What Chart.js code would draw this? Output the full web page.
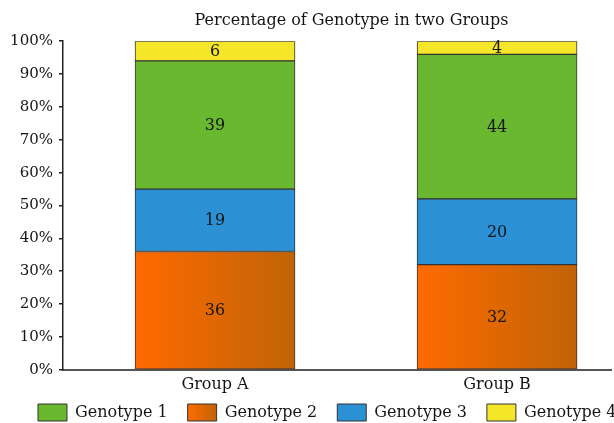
<!DOCTYPE html>
<html><head><meta charset="utf-8">
<script src="https://cdn.jsdelivr.net/npm/chart.js@4.4.1/dist/chart.umd.min.js"></script>
<style>html,body{margin:0;padding:0;background:#fff}#wrap{width:614px;height:423px}</style>
</head><body><div id="wrap"><canvas id="c" width="614" height="423"></canvas></div>
<script>
const chartTitle = 'Percentage of Genotype in two Groups';
const groups = ['Group A', 'Group B'];
const groupPositions = [1, 2];
const seriesNames = ['Genotype 1', 'Genotype 2', 'Genotype 3', 'Genotype 4'];
const genotype1 = [39, 44];
const genotype2 = [36, 32];
const genotype3 = [19, 20];
const genotype4 = [6, 4];
const yTicks = [0, 10, 20, 30, 40, 50, 60, 70, 80, 90, 100];

const FONT = 'DejaVu Serif';
const TXT = '#151515';
const EDGE = '#333333';
const ORANGE_L = '#ff6a00', ORANGE_R = '#c06406';

function pts(arr) { return arr.map((v, i) => ({ x: groupPositions[i], y: v })); }

function orangeFill(ctx) {
  const chart = ctx.chart;
  if (ctx.type !== 'data' || !chart.chartArea) return '#e06800';
  const x = chart.scales.x.getPixelForValue(groupPositions[ctx.dataIndex]);
  const g = chart.ctx.createLinearGradient(x - 80, 0, x + 80, 0);
  g.addColorStop(0, ORANGE_L);
  g.addColorStop(1, ORANGE_R);
  return g;
}

const datasets = [
  { label: seriesNames[1], data: pts(genotype2), backgroundColor: orangeFill },
  { label: seriesNames[2], data: pts(genotype3), backgroundColor: '#2b90d4' },
  { label: seriesNames[0], data: pts(genotype1), backgroundColor: '#6ab82f' },
  { label: seriesNames[3], data: pts(genotype4), backgroundColor: '#f5e62a' }
].map(d => Object.assign(d, { borderColor: EDGE, borderWidth: 1, borderSkipped: false, barThickness: 160 }));

const valueLabels = {
  id: 'valueLabels',
  afterDatasetsDraw(chart) {
    const ctx = chart.ctx;
    ctx.save();
    ctx.font = '16px "' + FONT + '"';
    ctx.fillStyle = TXT;
    ctx.textAlign = 'center';
    ctx.textBaseline = 'middle';
    chart.data.datasets.forEach((ds, di) => {
      chart.getDatasetMeta(di).data.forEach((el, i) => {
        const p = el.getProps(['x', 'y', 'base'], true);
        ctx.fillText(String(ds.data[i].y), p.x, (p.y + p.base) / 2 + 1);
      });
    });
    ctx.restore();
  }
};

const placeBoxes = {
  id: 'placeBoxes',
  afterLayout(chart) {
    const t = chart.titleBlock;
    if (t) { t.left += 46; t.right += 46; }
    const lg = chart.legend;
    if (lg) {
      const pad = lg.options.labels.padding;
      lg.left = 38 - pad; lg.right = 1000;
      lg.top = 404 - pad; lg.bottom = 423;
    }
  },
  beforeDraw(chart) {
    const lg = chart.legend;
    if (!lg) return;
    const lo = lg.options.labels;
    const pad = lo.padding;
    const ctx = chart.ctx;
    ctx.save();
    ctx.font = lo.font.size + 'px "' + lo.font.family + '"';
    let x = lg.left + pad;
    (lg.legendItems || []).forEach(item => {
      const w = lo.boxWidth + lo.font.size / 2 + ctx.measureText(item.text).width;
      if (item.text === seriesNames[1]) {
        const g = ctx.createLinearGradient(x, 0, x + lo.boxWidth, 0);
        g.addColorStop(0, ORANGE_L); g.addColorStop(1, ORANGE_R);
        item.fillStyle = g;
      }
      x += w + pad;
    });
    ctx.restore();
  }
};

new Chart(document.getElementById('c'), {
  type: 'bar',
  data: { datasets },
  plugins: [valueLabels, placeBoxes],
  options: {
    responsive: false,
    animation: false,
    layout: { padding: { left: 0, right: 3, top: 0, bottom: 0 } },
    scales: {
      x: {
        type: 'linear', stacked: true, offset: false, min: 0.461, max: 2.404,
        afterBuildTicks(scale) { scale.ticks = groupPositions.map(v => ({ value: v })); },
        ticks: {
          padding: 5, color: TXT, font: { family: FONT, size: 16 },
          callback: (v) => groups[groupPositions.indexOf(v)]
        },
        grid: { display: false, drawTicks: false },
        border: { color: '#555', width: 2 }
      },
      y: {
        stacked: true, min: 0, max: 100,
        afterBuildTicks(scale) { scale.ticks = yTicks.map(v => ({ value: v })); },
        afterFit(scale) { scale.width = 63; },
        ticks: {
          padding: 6, color: TXT, font: { family: FONT, size: 15 },
          callback: (v) => v + '%'
        },
        grid: { drawOnChartArea: false, drawTicks: true, tickLength: 4, color: '#222', lineWidth: 1.5 },
        border: { color: '#222', width: 1.5 }
      }
    },
    plugins: {
      title: {
        display: true, text: chartTitle, color: TXT,
        font: { family: FONT, size: 16, weight: 'normal' },
        padding: { top: 11, bottom: 11 }
      },
      legend: {
        position: 'bottom', align: 'start', maxHeight: 24,
        labels: {
          boxWidth: 29, boxHeight: 17, padding: 20, color: TXT,
          font: { family: FONT, size: 16 },
          sort: (a, b) => a.text.localeCompare(b.text)
        }
      },
      tooltip: { enabled: false }
    }
  }
});
</script></body></html>
